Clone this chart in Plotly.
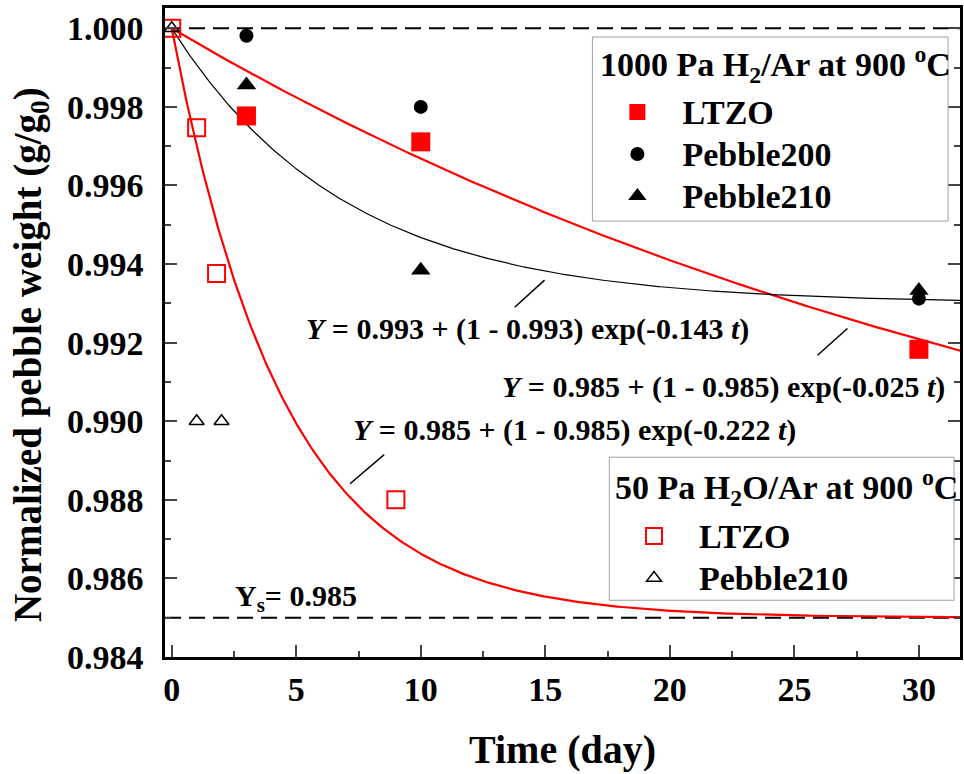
import numpy as np
import plotly.graph_objects as go

# ---------------- data ----------------
# 1000 Pa H2/Ar at 900 oC
h2_t = [3, 10, 30]
h2_ltzo = [0.99777, 0.99711, 0.99183]
h2_peb200 = [0.99981, 0.99800, 0.99312]
h2_peb210 = [0.99856, 0.99384, 0.99333]
# 50 Pa H2O/Ar at 900 oC
h2o_ltzo_t = [0, 1, 1.8, 9]
h2o_ltzo = [1.0000, 0.99747, 0.99376, 0.98800]
h2o_peb210_t = [0, 1, 2]
h2o_peb210 = [1.0000, 0.9900, 0.9900]

# fitted models Y = Ys + (1 - Ys) exp(-k t)  (parameters printed on chart)
fit_h2_ltzo = (0.985, 0.025)
fit_h2_peb = (0.993, 0.143)
fit_h2o_ltzo = (0.985, 0.222)
Y_ref = 1.000
Y_s = 0.985

legend1_title = "1000 Pa H<sub>2</sub>/Ar at 900 <sup>o</sup>C"
legend2_title = "50 Pa H<sub>2</sub>O/Ar at 900 <sup>o</sup>C"

FONT = "Liberation Serif"
RED = "#ff0000"

t_fit = np.linspace(0, 31.7, 400)


def model(p):
    ys, k = p
    return ys + (1 - ys) * np.exp(-k * t_fit)


def big(s):
    return "<span style='font-size:34px'>" + s + "</span>"


fig = go.Figure()

# fit curves
fig.add_trace(go.Scatter(x=t_fit, y=model(fit_h2_ltzo), mode="lines",
                         line=dict(color=RED, width=2.2), showlegend=False, hoverinfo="skip"))
fig.add_trace(go.Scatter(x=t_fit, y=model(fit_h2_peb), mode="lines",
                         line=dict(color="black", width=1.2), showlegend=False, hoverinfo="skip"))
fig.add_trace(go.Scatter(x=t_fit, y=model(fit_h2o_ltzo), mode="lines",
                         line=dict(color=RED, width=2.2), showlegend=False, hoverinfo="skip"))

# H2 data (legend 1)
fig.add_trace(go.Scatter(x=h2_t, y=h2_ltzo, mode="markers", name=big("LTZO"),
                         marker=dict(symbol="square", size=19, color=RED),
                         legend="legend", legendgroup="a"))
fig.add_trace(go.Scatter(x=h2_t, y=h2_peb200, mode="markers", name=big("Pebble200"),
                         marker=dict(symbol="circle", size=14, color="black"),
                         legend="legend", legendgroup="b"))
fig.add_trace(go.Scatter(x=h2_t, y=h2_peb210, mode="markers", name=big("Pebble210"),
                         marker=dict(symbol="triangle-up", size=17, color="black"),
                         legend="legend", legendgroup="c"))
# H2O data (legend 2)
fig.add_trace(go.Scatter(x=h2o_ltzo_t, y=h2o_ltzo, mode="markers", name=big("LTZO"),
                         marker=dict(symbol="square-open", size=17, color=RED,
                                     line=dict(width=2, color=RED)),
                         legend="legend2", legendgroup="d"))
fig.add_trace(go.Scatter(x=h2o_peb210_t, y=h2o_peb210, mode="markers", name=big("Pebble210"),
                         marker=dict(symbol="triangle-up-open", size=13, color="black",
                                     line=dict(width=1.5, color="black")),
                         legend="legend2", legendgroup="e"))

# reference dashed lines
for yv in (Y_ref, Y_s):
    fig.add_shape(type="line", xref="x domain", yref="y", x0=0, x1=1, y0=yv, y1=yv,
                  line=dict(color="black", width=2, dash="16px,8px"), layer="below")

# leader lines
leaders = [((13.77, 0.99290), (14.97, 0.99359)),
           ((25.93, 0.99168), (27.13, 0.99236)),
           ((7.16, 0.98841), (8.53, 0.98915))]
for (x0, y0), (x1, y1) in leaders:
    fig.add_shape(type="line", xref="x", yref="y", x0=x0, y0=y0, x1=x1, y1=y1,
                  line=dict(color="black", width=1.5))

# legend frames (box incl. title)
for (x0, x1, y0, y1) in [(0.5376, 0.9850, 0.6717, 0.9553), (0.5589, 0.9925, 0.0874, 0.3078)]:
    fig.add_shape(type="rect", xref="paper", yref="paper", x0=x0, x1=x1, y0=y0, y1=y1,
                  fillcolor="white", line=dict(color="#a0a0a0", width=1), layer="above")

bold = dict(family=FONT, color="black", weight="bold")
anns = [
    (14.29, 0.99236, "<i>Y</i> = 0.993 + (1 - 0.993) exp(-0.143 <i>t</i>)"),
    (22.16, 0.99087, "<i>Y</i> = 0.985 + (1 - 0.985) exp(-0.025 <i>t</i>)"),
    (16.19, 0.98977, "<i>Y</i> = 0.985 + (1 - 0.985) exp(-0.222 <i>t</i>)"),
    (4.97, 0.98551, "Y<sub>s</sub>= 0.985"),
]
for x, y, txt in anns:
    fig.add_annotation(x=x, y=y, xref="x", yref="y", text=txt, showarrow=False,
                       font=dict(size=30, **bold), xanchor="center", yanchor="middle")

# legend titles
fig.add_annotation(x=0.5451, y=0.9129, xref="paper", yref="paper", text=legend1_title,
                   showarrow=False, font=dict(size=34, **bold), xanchor="left", yanchor="middle")
fig.add_annotation(x=0.5639, y=0.2616, xref="paper", yref="paper", text=legend2_title,
                   showarrow=False, font=dict(size=34, **bold), xanchor="left", yanchor="middle")

# y axis title (as rotated annotation for exact centering)
fig.add_annotation(x=-0.1692, y=0.466, xref="paper", yref="paper",
                   text="Normalized pebble weight (g/g<sub>0</sub>)", textangle=-90,
                   showarrow=False, font=dict(size=39, **bold), xanchor="center", yanchor="middle")

leg_common = dict(bgcolor="rgba(0,0,0,0)", borderwidth=0,
                  font=dict(family=FONT, size=30, color="black", weight="bold"),
                  xanchor="left", yanchor="top", itemwidth=80, tracegroupgap=0,
                  traceorder="normal")

fig.update_layout(
    width=964, height=774,
    margin=dict(l=165, r=1, t=8, b=117),
    plot_bgcolor="white", paper_bgcolor="white",
    font=dict(family=FONT, color="black"),
    legend=dict(x=0.5376, y=0.8798, **leg_common),
    legend2=dict(x=0.5585, y=0.2266, **leg_common),
    xaxis=dict(range=[-0.27, 31.65], dtick=5, tick0=0, ticks="inside", ticklen=12, tickwidth=2,
               minor=dict(dtick=2.5, ticks="inside", ticklen=6, tickwidth=2),
               showline=True, linewidth=2.5, linecolor="black", mirror=True,
               showgrid=False, zeroline=False,
               tickfont=dict(family=FONT, size=34, color="black", weight="bold"),
               ticklabelstandoff=0,
               title=dict(text="Time (day)", standoff=29,
                          font=dict(family=FONT, size=40, color="black", weight="bold"))),
    yaxis=dict(range=[0.984, 1.000517], dtick=0.002, tick0=0.984, tickformat=".3f",
               ticks="inside", ticklen=12, tickwidth=2,
               minor=dict(dtick=0.001, ticks="inside", ticklen=6, tickwidth=2),
               showline=True, linewidth=2.5, linecolor="black", mirror="ticks",
               showgrid=False, zeroline=False,
               tickfont=dict(family=FONT, size=34, color="black", weight="bold"),
               ticklabelstandoff=12),
)

fig.write_html("out.html")
